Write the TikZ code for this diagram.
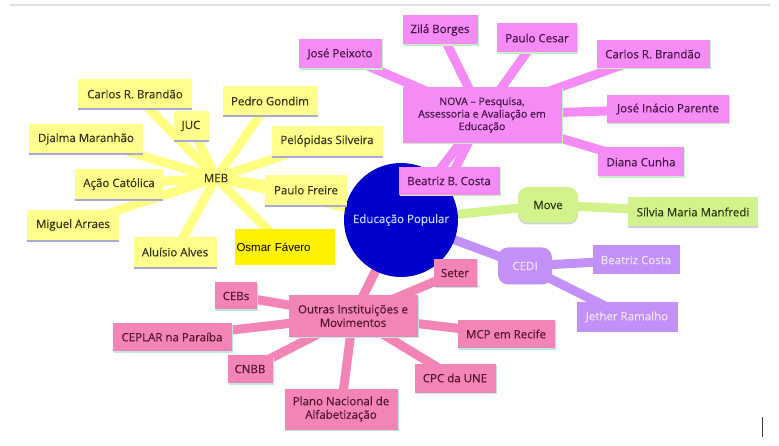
\documentclass[tikz,border=0pt]{standalone}
\usepackage{fontspec}
\setmainfont{Open Sans}[FakeBold=0.25]
\newfontfamily\arialfont{Liberation Sans}
\usetikzlibrary{shadows}
\pgfdeclarelayer{bg}
\pgfdeclarelayer{paper}
\pgfsetlayers{paper,bg,main}
\definecolor{yfill}{RGB}{255,255,140}
\definecolor{yline}{RGB}{255,255,130}
\definecolor{yul}{RGB}{170,170,215}
\definecolor{ytext}{RGB}{50,50,20}
\definecolor{mfill}{RGB}{245,140,245}
\definecolor{mtext}{RGB}{70,20,70}
\definecolor{kfill}{RGB}{242,132,182}
\definecolor{ktext}{RGB}{85,20,50}
\definecolor{gfill}{RGB}{210,242,140}
\definecolor{gtext}{RGB}{40,55,15}
\definecolor{pfill}{RGB}{194,144,246}
\definecolor{ptext}{RGB}{238,228,255}
\definecolor{cblue}{RGB}{0,0,205}
\definecolor{ctext}{RGB}{200,215,255}
\definecolor{shg}{RGB}{200,235,200}
\definecolor{sht}{RGB}{190,230,225}
\begin{document}
\begin{tikzpicture}[x=1pt,y=-1pt,
  every node/.style={inner sep=0pt, font=\fontsize{11.5}{13.5}\selectfont, align=center},
  ybox/.style={fill=yfill, text=ytext, drop shadow={shadow xshift=0pt, shadow yshift=-2pt, fill=yul, opacity=1}},
  mbox/.style={fill=mfill, text=mtext, drop shadow={shadow xshift=1pt, shadow yshift=-1.5pt, fill=shg, opacity=1}},
  kbox/.style={fill=kfill, text=ktext, drop shadow={shadow xshift=1pt, shadow yshift=-1.5pt, fill=sht, opacity=1}},
  gbox/.style={fill=gfill, text=gtext, drop shadow={shadow xshift=0pt, shadow yshift=-1.5pt, fill=yul!60, opacity=1}},
  pbox/.style={fill=pfill, text=ptext},
  hubfont/.style={font=\fontsize{10.5}{12.5}\selectfont},
  sz/.style 2 args={minimum width=#1, minimum height=#2},
  yedge/.style={draw=yline, line width=9pt},
  medge/.style={draw=mfill, line width=9pt},
  kedge/.style={draw=kfill, line width=9pt},
  gedge/.style={draw=gfill, line width=9pt},
  pedge/.style={draw=pfill, line width=9pt},
]
\useasboundingbox (0,0) rectangle (779,446);
\begin{pgfonlayer}{paper}
\fill[white] (0,0) rectangle (779,446);
\draw[black!12, line width=1.5pt] (10,5) -- (770,5);
\draw[black!75, line width=0.8pt] (762,417) -- (762,437);
\end{pgfonlayer}

% center
\node[circle, fill=cblue, text=ctext, minimum size=114] (c) at (401,220) {Educação Popular};

% MEB group
\node[text=ytext] (meb) at (216,178) {MEB};
\node[ybox, sz={114}{29}] (y1) at (135,94) {Carlos R. Brandão};
\node[ybox, sz={35}{29}] (y2) at (191,126) {JUC};
\node[ybox, sz={95}{29}] (y3) at (270,101) {Pedro Gondim};
\node[ybox, sz={114}{29}] (y4) at (86,139) {Djalma Maranhão};
\node[ybox, sz={111}{30}] (y5) at (327,141) {Pelópidas Silveira};
\node[ybox, sz={88}{30}] (y6) at (119,184) {Ação Católica};
\node[ybox, sz={82}{30}] (y7) at (306,190) {Paulo Freire};
\node[ybox, sz={92}{30}] (y8) at (73,225) {Miguel Arraes};
\node[ybox, sz={83}{30}] (y9) at (175,252) {Aluísio Alves};
\node[fill=yellow, text=black, sz={100}{36}, text width=97, align=left, font=\arialfont\fontsize{11.5}{13}\selectfont] (osmar) at (285,247) {Osmar Fávero};

% NOVA group
\node[mbox, hubfont, sz={159}{56}] (nova) at (482,115) {NOVA – Pesquisa,\\Assessoria e Avaliação em\\Educação};
\node[mbox, sz={83}{29}] (m1) at (340,54) {José Peixoto};
\node[mbox, sz={75}{29}] (m2) at (440,30) {Zilá Borges};
\node[mbox, sz={80}{29}] (m3) at (537,38) {Paulo Cesar};
\node[mbox, sz={113}{28}] (m4) at (653,54) {Carlos R. Brandão};
\node[mbox, sz={122}{28}] (m5) at (668,109) {José Inácio Parente};
\node[mbox, sz={86}{29}] (m6) at (641,162) {Diana Cunha};
\node[mbox, sz={101}{28}] (m7) at (449,181) {Beatriz B. Costa};

% Move group
\node[gbox, rounded corners=10pt, sz={60}{36}] (move) at (548,205) {Move};
\node[gbox, sz={130}{29}] (g1) at (693,212) {Sílvia Maria Manfredi};

% CEDI group
\node[pbox, rounded corners=10pt, sz={54}{37}] (cedi) at (525,266) {CEDI};
\node[pbox, sz={87}{29}] (p1) at (636,260) {Beatriz Costa};
\node[pbox, sz={101}{29}] (p2) at (627,317) {Jether Ramalho};

% Outras group
\node[kbox, sz={129}{41}] (outras) at (353,316) {Outras Instituições e\\Movimentos};
\node[kbox, sz={43}{28}] (k1) at (455,273) {Seter};
\node[kbox, sz={42}{27}] (k2) at (236,296) {CEBs};
\node[kbox, sz={119}{28}] (k3) at (172,337) {CEPLAR na Paraíba};
\node[kbox, sz={97}{28}] (k4) at (506,334) {MCP em Recife};
\node[kbox, sz={45}{28}] (k5) at (250,369) {CNBB};
\node[kbox, sz={81}{29}] (k6) at (455,378) {CPC da UNE};
\node[kbox, sz={113}{41}] (k7) at (341,409) {Plano Nacional de\\Alfabetização};

\begin{pgfonlayer}{bg}
  \foreach \n in {c,y1,y2,y3,y4,y5,y6,y7,y8,y9,osmar}
    \draw[yedge] (meb.center) -- (\n.center);
  \foreach \n in {c,m1,m2,m3,m4,m5,m6,m7}
    \draw[medge] (nova.center) -- (\n.center);
  \draw[gedge] (c.center) -- (move.center) -- (g1.center);
  \draw[pedge] (c.center) -- (cedi.center);
  \draw[pedge] (cedi.center) -- (p1.center);
  \draw[pedge] (cedi.center) -- (p2.center);
  \foreach \n in {c,k1,k2,k3,k4,k5,k6,k7}
    \draw[kedge] (outras.center) -- (\n.center);
\end{pgfonlayer}
\end{tikzpicture}
\end{document}
